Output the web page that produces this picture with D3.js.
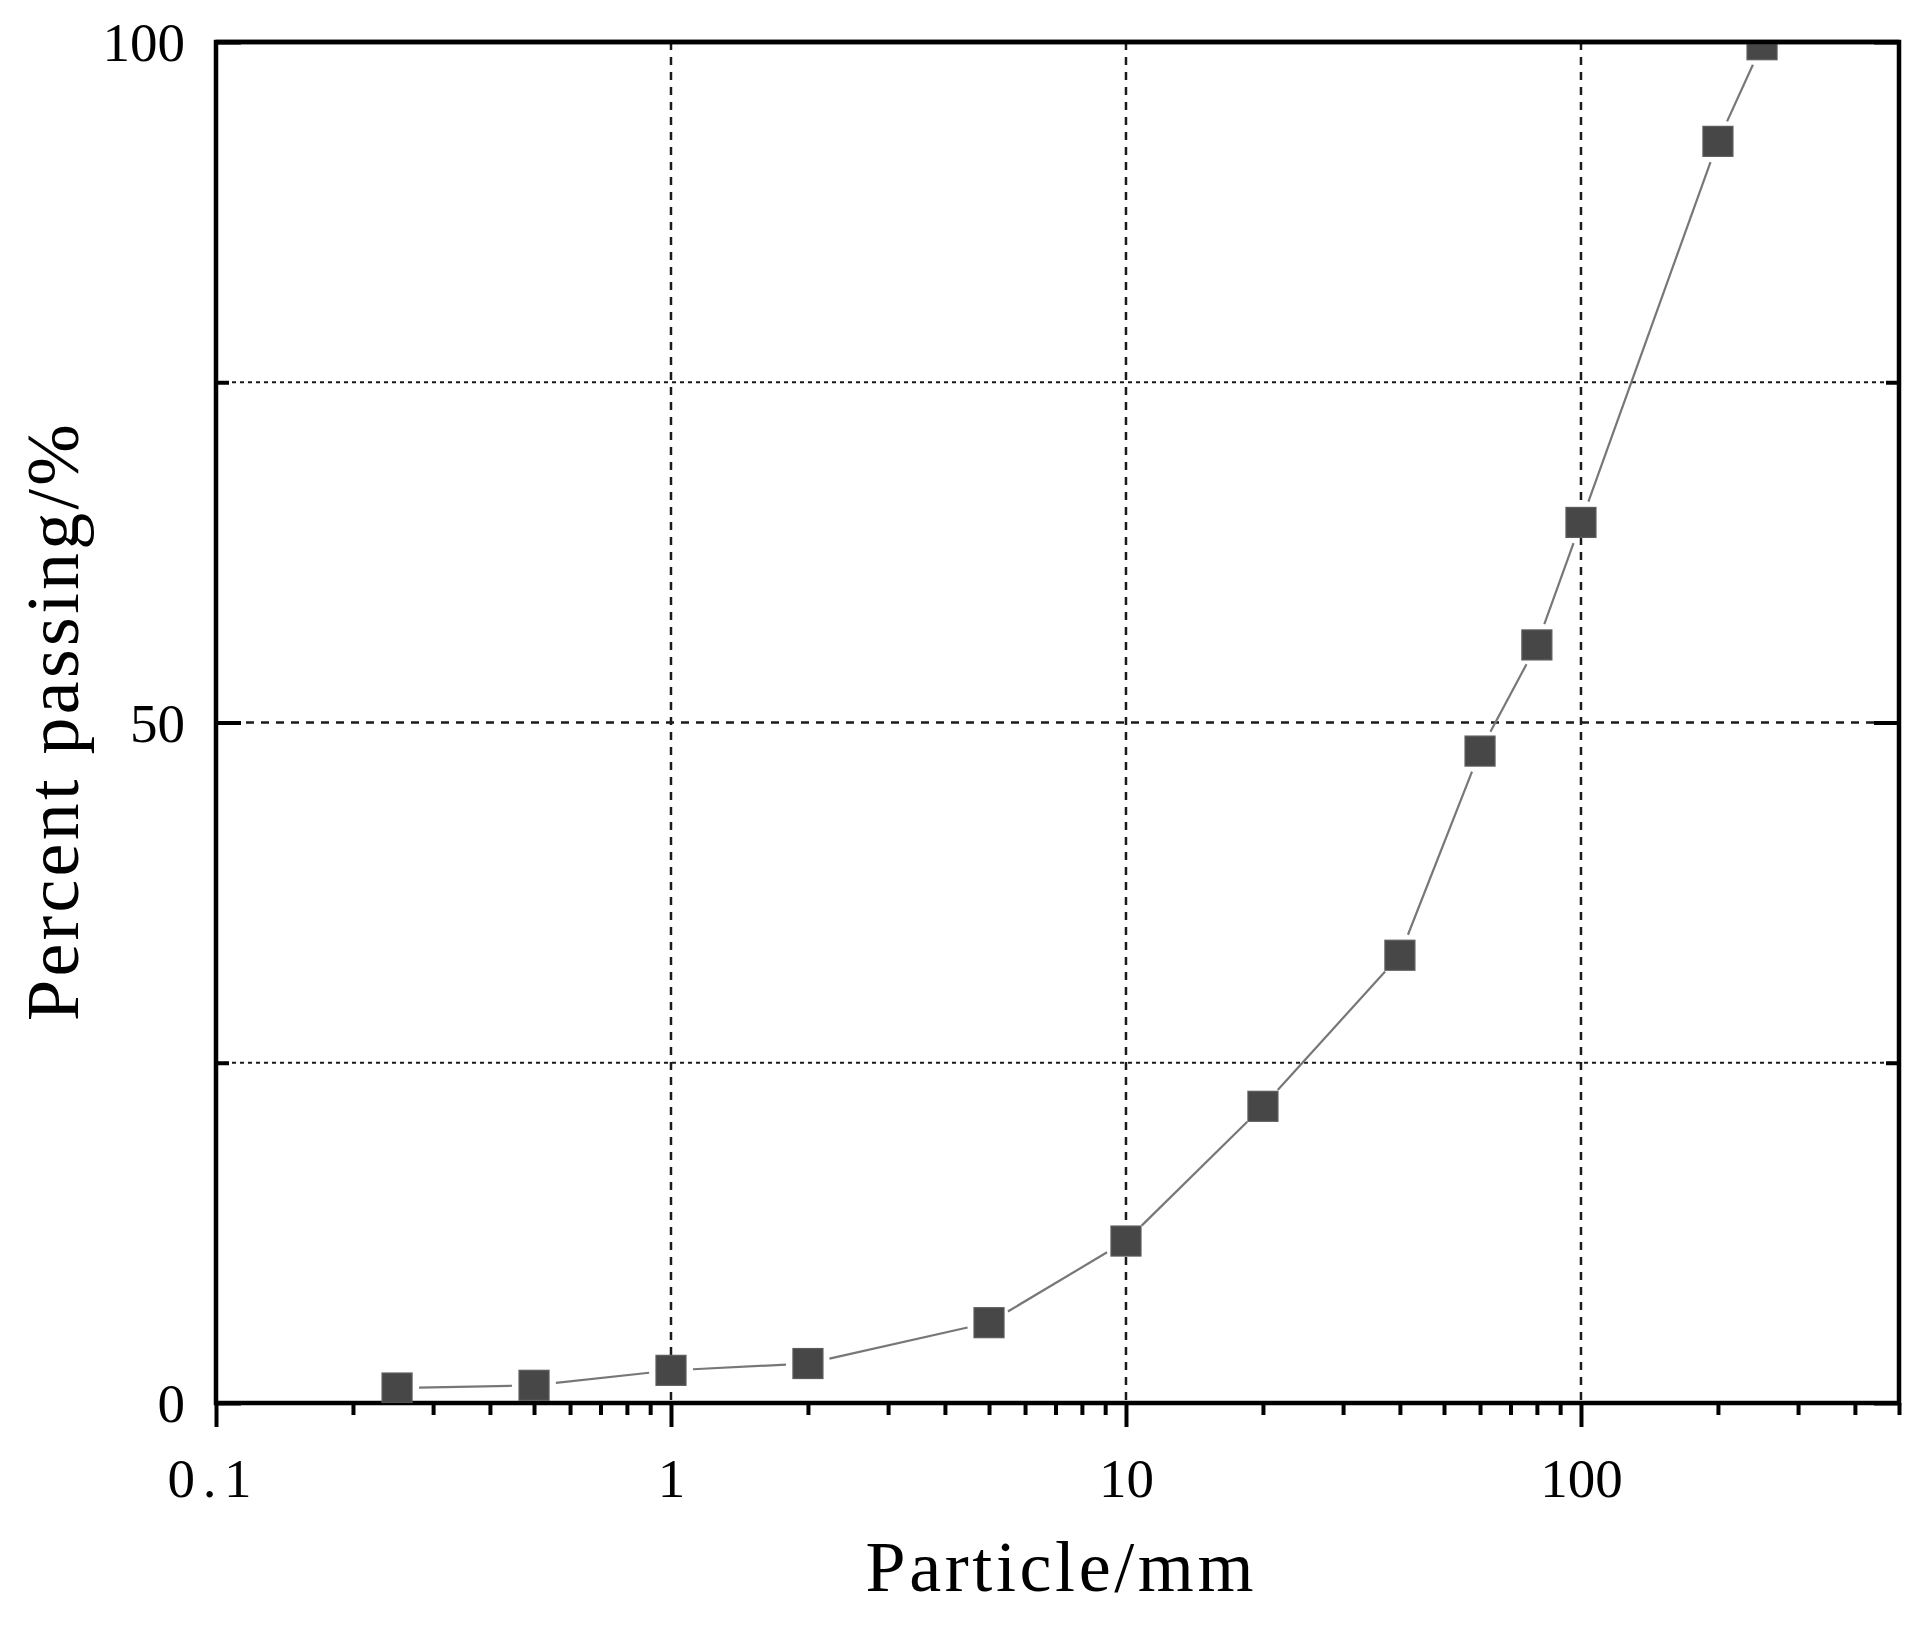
<!DOCTYPE html>
<html>
<head>
<meta charset="utf-8">
<script src="https://cdn.jsdelivr.net/npm/d3@7"></script>
<style>
  body { margin: 0; background: #fff; }
  text { font-family: "Liberation Serif", "DejaVu Serif", serif; fill: #000; }
</style>
</head>
<body>
<div id="chart"></div>
<script>
// sieve data
const particleSize = [0.25, 0.5, 1, 2, 5, 10, 20, 40, 60, 80, 100, 200, 250];
const percentPassing = [1.1, 1.3, 2.4, 2.9, 5.9, 11.9, 21.8, 32.9, 47.9, 55.7, 64.7, 92.7, 99.8];
const xMajorTicks = [0.1, 1, 10, 100];
const xTickLabels = ["0.1", "1", "10", "100"];
const yMajorTicks = [0, 50, 100];
const yMinorTicks = [25, 75];
const xTitle = "Particle/mm";
const yTitle = "Percent passing/%";

const margin = { top: 42, right: 29, bottom: 227, left: 216 };
const width = 1928 - margin.left - margin.right;
const height = 1630 - margin.top - margin.bottom;

const x = d3.scaleLog()
  .domain([0.1, 500])
  .range([0, width]);

const y = d3.scaleLinear()
  .domain([0, 100])
  .range([height, 0]);

const isMajor = d => Math.abs(Math.log10(d) - Math.round(Math.log10(d))) < 1e-6;

const root = d3.select('#chart')
  .append('svg')
    .attr('width', 1928)
    .attr('height', 1630);

const svg = root.append('g')
    .attr('transform', `translate(${margin.left}, ${margin.top})`);

svg.append('clipPath')
    .attr('id', 'plot-clip')
  .append('rect')
    .attr('width', width)
    .attr('height', height);

// grid
svg.append('g')
  .selectAll('line')
  .data(xMajorTicks.slice(1))
  .join('line')
    .attr('x1', d => x(d)).attr('x2', d => x(d))
    .attr('y1', 0).attr('y2', height)
    .attr('stroke', '#1a1a1a')
    .attr('stroke-width', 2.5)
    .attr('stroke-dasharray', '8,7');

svg.append('g')
  .selectAll('line')
  .data(yMajorTicks.slice(1, -1))
  .join('line')
    .attr('x1', 0).attr('x2', width)
    .attr('y1', d => y(d)).attr('y2', d => y(d))
    .attr('stroke', '#1a1a1a')
    .attr('stroke-width', 2.5)
    .attr('stroke-dasharray', '8,7');

svg.append('g')
  .selectAll('line')
  .data(yMinorTicks)
  .join('line')
    .attr('x1', 0).attr('x2', width)
    .attr('y1', d => y(d)).attr('y2', d => y(d))
    .attr('stroke', '#1a1a1a')
    .attr('stroke-width', 2.2)
    .attr('stroke-dasharray', '4,4');

// bottom axis, ticks outward
const xAxis = svg.append('g')
    .attr('transform', `translate(0, ${height})`)
    .call(d3.axisBottom(x)
      .tickValues(x.ticks())
      .tickSize(12)
      .tickFormat(d => {
        const i = xMajorTicks.findIndex(m => Math.abs(m - d) < 1e-9);
        return i >= 0 ? xTickLabels[i] : '';
      }));
xAxis.select('.domain').remove();
xAxis.selectAll('.tick line')
    .attr('stroke', '#000')
    .attr('stroke-width', 4)
    .attr('y2', d => isMajor(d) ? 24 : 12);
xAxis.selectAll('.tick text')
    .attr('y', 94)
    .attr('dy', 0)
    .attr('font-size', 55);
xAxis.selectAll('.tick text')
    .filter(d => Math.abs(d - 0.1) < 1e-9)
    .attr('textLength', 84)
    .attr('lengthAdjust', 'spacing')
    .attr('x', -7);

// left axis, ticks inward
const yValues = yMajorTicks.concat(yMinorTicks);
const yAxis = svg.append('g')
    .call(d3.axisLeft(y)
      .tickValues(yValues)
      .tickSize(-25)
      .tickPadding(31)
      .tickFormat(d => yMajorTicks.includes(d) ? String(d) : ''));
yAxis.select('.domain').remove();
yAxis.selectAll('.tick line')
    .attr('stroke', '#000')
    .attr('stroke-width', 4)
    .attr('x2', d => yMajorTicks.includes(d) ? 25 : 13);
yAxis.selectAll('.tick text')
    .attr('font-size', 55)
    .attr('dy', '0.34em');

// right axis, ticks inward, no labels
const yAxisRight = svg.append('g')
    .attr('transform', `translate(${width}, 0)`)
    .call(d3.axisRight(y)
      .tickValues(yValues)
      .tickSize(-25)
      .tickFormat(''));
yAxisRight.select('.domain').remove();
yAxisRight.selectAll('.tick line')
    .attr('stroke', '#000')
    .attr('stroke-width', 4)
    .attr('x2', d => yMajorTicks.includes(d) ? -25 : -13);

// frame
svg.append('rect')
    .attr('width', width)
    .attr('height', height)
    .attr('fill', 'none')
    .attr('stroke', '#000')
    .attr('stroke-width', 4.5);

// connecting line with a gap at each symbol
const points = particleSize.map((d, i) => [x(d), y(percentPassing[i])]);
const gap = 22;
const segments = d3.pairs(points).map(([a, b]) => {
  const dx = b[0] - a[0], dy = b[1] - a[1];
  const len = Math.hypot(dx, dy);
  const ux = dx / len, uy = dy / len;
  return [[a[0] + ux * gap, a[1] + uy * gap], [b[0] - ux * gap, b[1] - uy * gap]];
});

const plot = svg.append('g')
    .attr('clip-path', 'url(#plot-clip)');

plot.selectAll('path.seg')
  .data(segments)
  .join('path')
    .attr('class', 'seg')
    .attr('d', d3.line())
    .attr('fill', 'none')
    .attr('stroke', '#777')
    .attr('stroke-width', 2.2);

const markerSize = 30;
plot.selectAll('rect.pt')
  .data(particleSize)
  .join('rect')
    .attr('class', 'pt')
    .attr('x', d => x(d) - markerSize / 2)
    .attr('y', (d, i) => y(percentPassing[i]) - markerSize / 2)
    .attr('width', markerSize)
    .attr('height', markerSize)
    .attr('fill', '#474747')
    .attr('stroke', '#5c5c5c')
    .attr('stroke-width', 1.2);

// redraw top edge over the clipped marker
svg.append('line')
    .attr('x1', 0).attr('x2', width)
    .attr('y1', 0).attr('y2', 0)
    .attr('stroke', '#000')
    .attr('stroke-width', 4.5);

// axis titles
root.append('text')
    .attr('x', margin.left + width / 2 + 2)
    .attr('y', 1591)
    .attr('text-anchor', 'middle')
    .attr('font-size', 72)
    .attr('textLength', 388)
    .attr('lengthAdjust', 'spacing')
    .text(xTitle);

root.append('text')
    .attr('transform', `translate(78, ${margin.top + height / 2}) rotate(-90)`)
    .attr('text-anchor', 'middle')
    .attr('font-size', 74)
    .attr('textLength', 597)
    .attr('lengthAdjust', 'spacing')
    .text(yTitle);
</script>
</body>
</html>
